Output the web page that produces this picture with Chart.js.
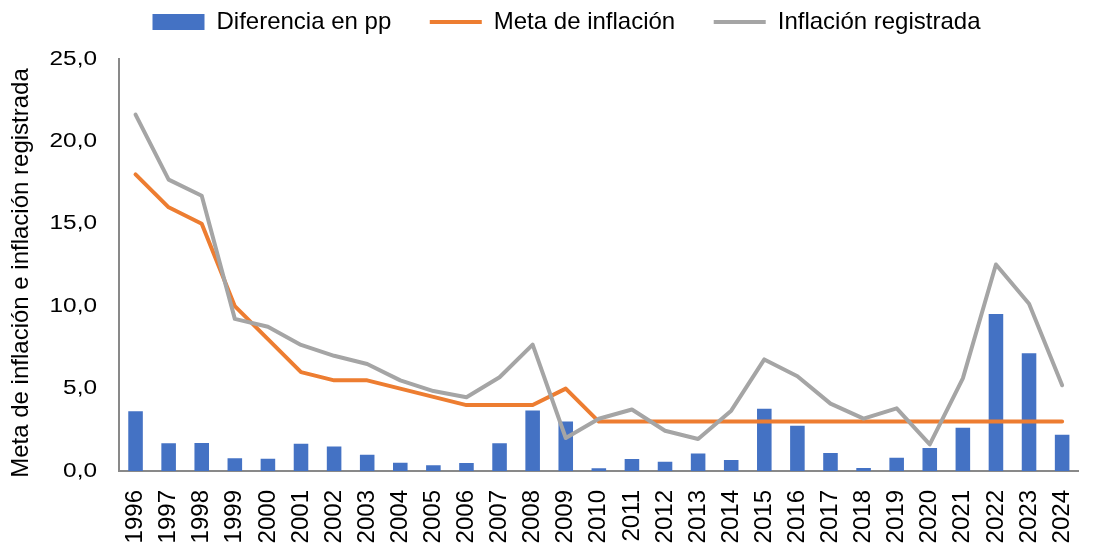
<!DOCTYPE html>
<html>
<head>
<meta charset="utf-8">
<script src="https://cdn.jsdelivr.net/npm/chart.js@4.4.1/dist/chart.umd.min.js"></script>
<style>
  html, body { margin: 0; padding: 0; background: #fff; overflow: hidden; }
  #wrap { position: absolute; left: 0; top: 0; width: 1110px; height: 545px; }
</style>
</head>
<body>
<div id="wrap"><canvas id="chart"></canvas></div>
<script>
// Datos
const years = ['1996', '1997', '1998', '1999', '2000', '2001', '2002', '2003', '2004', '2005',
  '2006', '2007', '2008', '2009', '2010', '2011', '2012', '2013', '2014', '2015',
  '2016', '2017', '2018', '2019', '2020', '2021', '2022', '2023', '2024'];

const diferencia = [3.63, 1.68, 1.70, 0.77, 0.75, 1.65, 1.49, 0.99, 0.50, 0.35,
  0.48, 1.69, 3.67, 3.00, 0.17, 0.73, 0.56, 1.06, 0.66, 3.77,
  2.75, 1.09, 0.18, 0.80, 1.39, 2.62, 9.53, 7.15, 2.20];

const meta = [18, 16, 15, 10, 8, 6, 5.5, 5.5, 5, 4.5,
  4, 4, 4, 5, 3, 3, 3, 3, 3, 3,
  3, 3, 3, 3, 3, 3, 3, 3, 3];

const registrada = [21.63, 17.68, 16.70, 9.23, 8.75, 7.65, 6.99, 6.49, 5.50, 4.85,
  4.48, 5.69, 7.67, 2.00, 3.17, 3.73, 2.44, 1.94, 3.66, 6.77,
  5.75, 4.09, 3.18, 3.80, 1.61, 5.62, 12.53, 10.15, 5.20];

const yTicks = [0, 5, 10, 15, 20, 25];

Chart.defaults.font.family = '"Liberation Sans", Arial, sans-serif';
Chart.defaults.color = '#000';

// small tweaks: legend spacing, wider y tick labels, title a bit lower
const tweaks = {
  id: 'tweaks',
  beforeLayout(chart) {
    const lg = chart.legend;
    if (lg && !lg._wrapped) {
      const fit = lg.fit;
      lg.fit = function () {
        fit.call(this);
        this.height += 15; // more room under legend
      };
      lg._wrapped = true;
    }
  },
  afterLayout(chart) {
    // move legend a little to the right
    chart.legend.left += 13.5;
    chart.legend.right += 13.5;
    const y = chart.scales.y;
    if (y._wide) return;
    const origLabels = y.drawLabels;
    y.drawLabels = function (area) {
      const c = this.ctx;
      const ax = this.right - 22;
      c.save();
      c.translate(ax, 0);
      c.scale(1.22, 1);
      c.translate(-ax, 0);
      origLabels.call(this, area);
      c.restore();
    };
    const origTitle = y.drawTitle;
    y.drawTitle = function () {
      this.ctx.save();
      this.ctx.translate(0, 8);
      origTitle.call(this);
      this.ctx.restore();
    };
    y._wide = true;
  }
};

const ctx = document.getElementById('chart');

new Chart(ctx, {
  type: 'bar',
  data: {
    labels: years,
    datasets: [
      {
        type: 'bar',
        label: 'Diferencia en pp',
        data: diferencia,
        backgroundColor: '#4472C4',
        borderWidth: 0,
        barPercentage: 0.44,
        categoryPercentage: 1,
        order: 3
      },
      {
        type: 'line',
        label: 'Meta de inflación',
        data: meta,
        borderColor: '#ED7D31',
        backgroundColor: '#ED7D31',
        borderWidth: 4,
        borderJoinStyle: 'round',
        borderCapStyle: 'round',
        pointRadius: 0,
        tension: 0,
        order: 2
      },
      {
        type: 'line',
        label: 'Inflación registrada',
        data: registrada,
        borderColor: '#A5A5A5',
        backgroundColor: '#A5A5A5',
        borderWidth: 4,
        borderJoinStyle: 'round',
        borderCapStyle: 'round',
        pointRadius: 0,
        tension: 0,
        order: 1
      }
    ]
  },
  options: {
    responsive: true,
    maintainAspectRatio: false,
    animation: false,
    layout: { padding: { top: -28.5, right: 4, left: 0, bottom: 0 } },
    plugins: {
      tooltip: { enabled: false },
      legend: {
        position: 'top',
        labels: {
          font: { size: 24 },
          color: '#000',
          usePointStyle: true,
          pointStyleWidth: 52,
          boxHeight: 16,
          padding: 38.5,
          sort: (a, b) => a.datasetIndex - b.datasetIndex,
          generateLabels(chart) {
            const items = Chart.defaults.plugins.legend.labels.generateLabels(chart);
            items.forEach(function (it) {
              it.pointStyle = it.datasetIndex === 0 ? 'rect' : 'line';
              if (it.datasetIndex === 0) it.lineWidth = 0;
            });
            return items;
          }
        }
      }
    },
    scales: {
      x: {
        grid: { display: false, drawTicks: false },
        border: { display: true, color: '#898989', width: 2 },
        ticks: {
          autoSkip: false,
          minRotation: 90,
          maxRotation: 90,
          padding: 19,
          font: { size: 24 },
          color: '#000'
        },
        afterFit(scale) { scale.height = 74; }
      },
      y: {
        min: 0,
        max: 25,
        afterBuildTicks(scale) { scale.ticks = yTicks.map(v => ({ value: v })); },
        grid: { display: false, drawTicks: false },
        border: { display: true, color: '#898989', width: 2 },
        ticks: {
          padding: 22,
          font: { size: 20 },
          color: '#000',
          callback: v => v.toFixed(1).replace('.', ',')
        },
        title: {
          display: true,
          text: 'Meta de inflación e inflación registrada',
          font: { size: 24 },
          color: '#000',
          padding: { top: 7, bottom: 0 }
        },
        afterFit(scale) { scale.width = 119; }
      }
    }
  },
  plugins: [tweaks]
});
</script>
</body>
</html>
